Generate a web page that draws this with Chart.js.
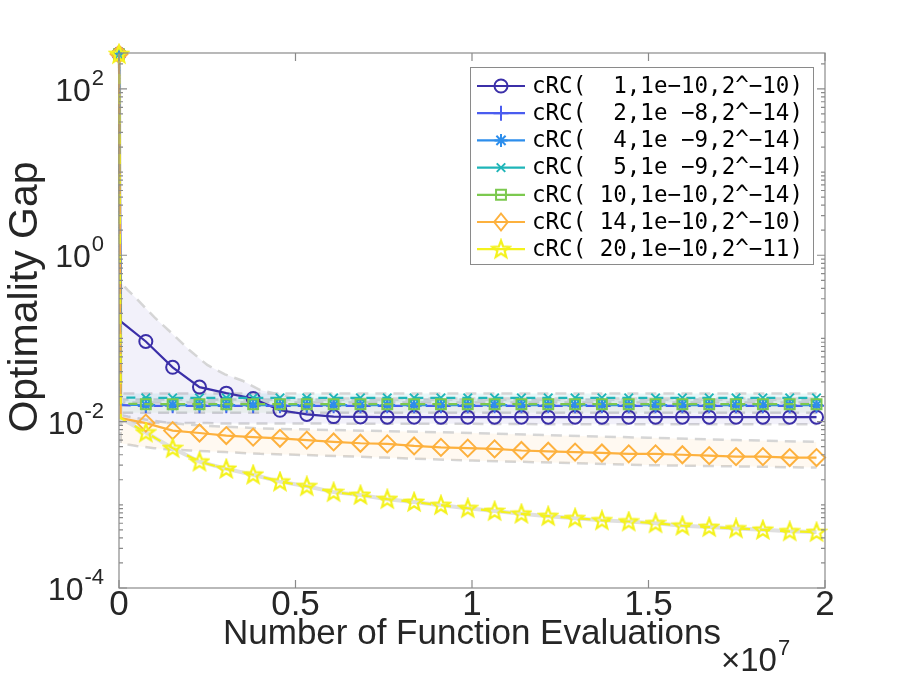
<!DOCTYPE html>
<html><head><meta charset="utf-8">
<script src="https://cdn.jsdelivr.net/npm/chart.js@4.4.1/dist/chart.umd.min.js"></script>
<style>html,body{margin:0;padding:0;background:#fff}#wrap{width:913px;height:686px;position:relative}</style>
</head><body><div id="wrap"><canvas id="c" width="913" height="686"></canvas></div>
<script>
// ---------------- data ----------------
const evaluations = [0, 5e4, 7.6e5, 1.52e6, 2.28e6, 3.04e6, 3.8e6, 4.56e6, 5.32e6, 6.08e6, 6.84e6, 7.6e6,
  8.36e6, 9.12e6, 9.88e6, 1.064e7, 1.14e7, 1.216e7, 1.292e7, 1.368e7, 1.444e7, 1.52e7, 1.596e7,
  1.672e7, 1.748e7, 1.824e7, 1.9e7, 1.976e7];

const seriesLabels = [
  'cRC(  1,1e\u221210,2^\u221210)',
  'cRC(  2,1e \u22128,2^\u221214)',
  'cRC(  4,1e \u22129,2^\u221214)',
  'cRC(  5,1e \u22129,2^\u221214)',
  'cRC( 10,1e\u221210,2^\u221214)',
  'cRC( 14,1e\u221210,2^\u221210)',
  'cRC( 20,1e\u221210,2^\u221211)'
];

const gap1 = [262, 0.16, 0.092, 0.045, 0.026, 0.022, 0.019, 0.0137, 0.0122, 0.0115, 0.0114, 0.0113, 0.0113, 0.0113,
  0.0113, 0.0113, 0.0113, 0.0113, 0.0113, 0.0113, 0.0113, 0.0113, 0.0113, 0.0113, 0.0113, 0.0113, 0.0113, 0.0113];
const gap2 = [262, 0.0158, 0.0155, 0.0155, 0.0155, 0.0155, 0.0155, 0.0155, 0.0155, 0.0155, 0.0155, 0.0155, 0.0155, 0.0155,
  0.0155, 0.0155, 0.0155, 0.0155, 0.0155, 0.0155, 0.0155, 0.0155, 0.0155, 0.0155, 0.0155, 0.0155, 0.0155, 0.0155];
const gap4 = [262, 0.016, 0.0158, 0.0158, 0.0158, 0.0158, 0.0158, 0.0158, 0.0158, 0.0158, 0.0158, 0.0158, 0.0158, 0.0158,
  0.0158, 0.0158, 0.0158, 0.0158, 0.0158, 0.0158, 0.0158, 0.0158, 0.0158, 0.0158, 0.0158, 0.0158, 0.0158, 0.0158];
const gap5 = [262, 0.0195, 0.0193, 0.0193, 0.0193, 0.0193, 0.0193, 0.0193, 0.0193, 0.0193, 0.0193, 0.0193, 0.0193, 0.0193,
  0.0193, 0.0193, 0.0193, 0.0193, 0.0193, 0.0193, 0.0193, 0.0193, 0.0193, 0.0193, 0.0193, 0.0193, 0.0193, 0.0193];
const gap10 = [262, 0.0165, 0.0162, 0.0162, 0.0162, 0.0162, 0.0162, 0.0162, 0.0162, 0.0162, 0.0162, 0.0162, 0.0162, 0.0162,
  0.0162, 0.0162, 0.0162, 0.0162, 0.0162, 0.0162, 0.0162, 0.0162, 0.0162, 0.0162, 0.0162, 0.0162, 0.0162, 0.0162];
const gap14 = [262, 0.011, 0.0096, 0.0078, 0.0073, 0.0068, 0.0065, 0.0063, 0.0060, 0.0057, 0.0055, 0.0054, 0.0051, 0.0049,
  0.0048, 0.0047, 0.0045, 0.0044, 0.0043, 0.0042, 0.0041, 0.0041, 0.0040, 0.0039, 0.0038, 0.0038, 0.0037, 0.0037];
const gap20 = [262, 0.011, 0.0074, 0.0048, 0.0033, 0.0027, 0.0023, 0.0019, 0.00167, 0.00142, 0.00131, 0.00117, 0.00108,
  0.00099, 0.00091, 0.00084, 0.00078, 0.00073, 0.00069, 0.00065, 0.00063, 0.0006, 0.00056, 0.00054, 0.00052, 0.0005,
  0.00048, 0.00047];

// spread bands
const bandEvaluations = [0, 5e4, 2.5e5, 5e5, 1e6, 1.5e6, 2e6, 2.5e6, 3e6, 3.5e6, 4e6, 5e6, 7.5e6, 1e7, 1.25e7, 1.5e7, 1.75e7, 1.976e7];
const band1Upper = [262, 0.47, 0.38, 0.30, 0.18, 0.115, 0.072, 0.048, 0.037, 0.031, 0.024, 0.019, 0.019, 0.019, 0.019, 0.019, 0.019, 0.019];
const band1Lower = [262, 0.0098, 0.0098, 0.0097, 0.0097, 0.0096, 0.0096, 0.0096, 0.0095, 0.0095, 0.0095, 0.0095, 0.0094, 0.0094, 0.0093, 0.0093, 0.0093, 0.0093];
const band5Upper = [262, 0.0218, 0.0218, 0.0218, 0.0218, 0.0218, 0.0218, 0.0218, 0.0218, 0.0218, 0.0218, 0.0218, 0.0218, 0.0218, 0.0218, 0.0218, 0.0218, 0.0218];
const band5Lower = [262, 0.017, 0.017, 0.017, 0.017, 0.017, 0.017, 0.017, 0.017, 0.017, 0.017, 0.017, 0.017, 0.017, 0.017, 0.017, 0.017, 0.017];
const band10Upper = [262, 0.0185, 0.0185, 0.0185, 0.0185, 0.0185, 0.0185, 0.0185, 0.0185, 0.0185, 0.0185, 0.0185, 0.0185, 0.0185, 0.0185, 0.0185, 0.0185, 0.0185];
const band10Lower = [262, 0.0128, 0.0128, 0.0128, 0.0128, 0.0128, 0.0128, 0.0128, 0.0128, 0.0128, 0.0128, 0.0128, 0.0128, 0.0128, 0.0128, 0.0128, 0.0128, 0.0128];
const band14Upper = [262, 0.012, 0.0115, 0.011, 0.0102, 0.0096, 0.0092, 0.0089, 0.0087, 0.0085, 0.0083, 0.0081, 0.0077, 0.0073, 0.0068, 0.0064, 0.0060, 0.0057];
const band14Lower = [262, 0.0055, 0.0053, 0.0051, 0.0048, 0.0046, 0.0045, 0.0044, 0.0043, 0.0042, 0.0041, 0.0040, 0.0037, 0.0034, 0.0032, 0.0030, 0.0029, 0.0028];

const xTickValues = [0, 5e6, 1e7, 1.5e7, 2e7];
const xTickLabels = ['0', '0.5', '1', '1.5', '2'];
const yTickValues = [1e-4, 1e-2, 1, 1e2];
const yTickBase = '10';
const yTickExponents = ['-4', '-2', '0', '2'];
const xTitle = 'Number of Function Evaluations';
const yTitle = 'Optimality Gap';
const xMultiplierBase = '\u00D710';
const xMultiplierExp = '7';

// ---------------- styles ----------------
const colors = ['#3b2fa8', '#4a5cef', '#2d8eec', '#1fb5b8', '#7cc94f', '#fdb13e', '#f4f21c'];
const textColor = '#262626';
const axisColor = '#8a8a8a';
const bandEdge = 'rgba(210,210,210,0.9)';
const sans = "'Liberation Sans', Arial, sans-serif";

function pentagram(color) {
  const cv = document.createElement('canvas');
  cv.width = 22; cv.height = 22;
  const g = cv.getContext('2d');
  g.strokeStyle = color; g.lineWidth = 2.2; g.lineJoin = 'miter';
  g.beginPath();
  for (let k = 0; k < 10; k++) {
    const r = k % 2 === 0 ? 9 : 3.8;
    const ang = -Math.PI / 2 + k * Math.PI / 5;
    const px = 11 + r * Math.cos(ang), py = 11.5 + r * Math.sin(ang);
    k === 0 ? g.moveTo(px, py) : g.lineTo(px, py);
  }
  g.closePath(); g.stroke();
  return cv;
}
const starImg = pentagram(colors[6]);

const markerStyles = ['circle', 'cross', 'star', 'crossRot', 'rect', 'rectRot', starImg];
const markerRadius = [6.5, 7.5, 6.5, 6, 7, 8.5, 9];

function toPoints(xs, ys) { return xs.map((v, i) => ({x: v, y: ys[i]})); }

function lineDs(idx, ys, order, extra) {
  return Object.assign({
    label: seriesLabels[idx],
    data: toPoints(evaluations, ys),
    borderColor: colors[idx],
    backgroundColor: 'rgba(0,0,0,0)',
    pointBorderColor: colors[idx],
    pointBackgroundColor: 'rgba(0,0,0,0)',
    pointStyle: markerStyles[idx],
    pointRadius: c => c.dataIndex === 1 ? 0 : markerRadius[idx],
    pointBorderWidth: 2,
    borderWidth: 2.2,
    tension: 0,
    fill: false,
    clip: false,
    order: order
  }, extra || {});
}
function bandDs(ys, fillColor, isUpper) {
  return {
    label: '_band',
    data: toPoints(bandEvaluations, ys),
    borderColor: bandEdge,
    borderWidth: 2.5,
    borderDash: [11, 7],
    backgroundColor: fillColor,
    pointRadius: 0,
    fill: isUpper ? '+1' : false,
    tension: 0,
    order: 20
  };
}

const datasets = [
  bandDs(band1Upper, 'rgba(70,60,180,0.07)', true),
  bandDs(band1Lower, 'rgba(0,0,0,0)', false),
  bandDs(band14Upper, 'rgba(255,175,60,0.07)', true),
  bandDs(band14Lower, 'rgba(0,0,0,0)', false),
  bandDs(band5Upper, 'rgba(40,180,190,0.10)', true),
  bandDs(band5Lower, 'rgba(0,0,0,0)', false),
  bandDs(band10Upper, 'rgba(120,200,90,0.08)', true),
  bandDs(band10Lower, 'rgba(0,0,0,0)', false),
  { label: '_band', data: toPoints(evaluations, gap20), borderColor: '#e0e0e0', borderWidth: 4, pointRadius: 0, fill: false, order: 15 },
  lineDs(0, gap1, 7),
  lineDs(1, gap2, 6, {borderDash: [9, 7], borderDashOffset: 0}),
  lineDs(2, gap4, 5, {borderDash: [9, 7], borderDashOffset: 8}),
  lineDs(3, gap5, 4, {borderDash: [9, 7], borderDashOffset: 3}),
  lineDs(4, gap10, 3, {borderDash: [9, 7], borderDashOffset: 11}),
  lineDs(5, gap14, 2),
  lineDs(6, gap20, 1, {borderDash: [10, 10]})
];

// ---------------- plugins ----------------
const boxTicks = {
  id: 'boxTicks',
  afterDatasetsDraw(chart) {
    const {ctx, chartArea: a, scales: {x, y}} = chart;
    ctx.save();
    ctx.strokeStyle = axisColor; ctx.lineWidth = 1.2; ctx.setLineDash([]);
    ctx.strokeRect(a.left, a.top, a.right - a.left, a.bottom - a.top);
    ctx.beginPath();
    xTickValues.forEach(v => {
      const p = x.getPixelForValue(v);
      ctx.moveTo(p, a.bottom); ctx.lineTo(p, a.bottom - 8);
      ctx.moveTo(p, a.top); ctx.lineTo(p, a.top + 8);
    });
    for (let e = -4; e <= 2; e++) {
      for (let m = 1; m <= 9; m++) {
        const v = m * Math.pow(10, e);
        if (v < y.min || v > y.max) continue;
        const p = y.getPixelForValue(v);
        const len = (m === 1 && yTickValues.includes(v)) ? 8 : 4;
        ctx.moveTo(a.left, p); ctx.lineTo(a.left + len, p);
        ctx.moveTo(a.right, p); ctx.lineTo(a.right - len, p);
      }
    }
    ctx.stroke();
    // y tick labels with superscript exponents
    ctx.fillStyle = textColor;
    ctx.textAlign = 'left'; ctx.textBaseline = 'alphabetic';
    yTickValues.forEach((v, i) => {
      const p = y.getPixelForValue(v);
      ctx.font = '22px ' + sans;
      const ew = ctx.measureText(yTickExponents[i]).width;
      ctx.font = '32px ' + sans;
      const bw = ctx.measureText(yTickBase).width;
      const right = a.left - 15;
      ctx.fillText(yTickBase, right - ew - bw - 1, p + 12);
      ctx.font = '22px ' + sans;
      ctx.fillText(yTickExponents[i], right - ew, p - 4);
    });
    ctx.restore();
  }
};

function drawMarker(ctx, style, r, cx, cy) {
  if (typeof style !== 'string') { ctx.drawImage(style, cx - style.width / 2, cy - style.height / 2); return; }
  ctx.beginPath();
  if (style === 'circle') { ctx.arc(cx, cy, r, 0, Math.PI * 2); }
  else if (style === 'cross') { ctx.moveTo(cx - r, cy); ctx.lineTo(cx + r, cy); ctx.moveTo(cx, cy - r); ctx.lineTo(cx, cy + r); }
  else if (style === 'crossRot' || style === 'star') {
    const d = r * Math.SQRT1_2;
    ctx.moveTo(cx - d, cy - d); ctx.lineTo(cx + d, cy + d); ctx.moveTo(cx - d, cy + d); ctx.lineTo(cx + d, cy - d);
    if (style === 'star') { ctx.moveTo(cx - r, cy); ctx.lineTo(cx + r, cy); ctx.moveTo(cx, cy - r); ctx.lineTo(cx, cy + r); }
  }
  else if (style === 'rect') { const d = r * Math.SQRT1_2; ctx.rect(cx - d, cy - d, 2 * d, 2 * d); }
  else if (style === 'rectRot') { ctx.moveTo(cx, cy - r); ctx.lineTo(cx + r * 0.8, cy); ctx.lineTo(cx, cy + r); ctx.lineTo(cx - r * 0.8, cy); ctx.closePath(); }
  ctx.stroke();
}

const textAndLegend = {
  id: 'textAndLegend',
  afterDraw(chart) {
    const ctx = chart.ctx;
    const a = chart.chartArea;
    ctx.save();
    ctx.fillStyle = textColor;
    // y title
    ctx.save();
    ctx.translate(26, 297); ctx.rotate(-Math.PI / 2);
    ctx.font = '41px ' + sans; ctx.textAlign = 'center'; ctx.textBaseline = 'middle';
    ctx.fillText(yTitle, 0, 0);
    ctx.restore();
    // x title
    ctx.font = '35px ' + sans; ctx.textAlign = 'center'; ctx.textBaseline = 'middle';
    ctx.fillText(xTitle, (a.left + a.right) / 2, 634);
    // multiplier
    ctx.textAlign = 'left'; ctx.textBaseline = 'alphabetic';
    ctx.font = '33px ' + sans;
    ctx.fillText(xMultiplierBase, 721, 671);
    const w = ctx.measureText(xMultiplierBase).width;
    ctx.font = '22px ' + sans;
    ctx.fillText(xMultiplierExp, 721 + w + 1, 655);
    // legend
    const L = {x: 470, y: 67, w: 343, h: 197};
    ctx.fillStyle = '#ffffff';
    ctx.fillRect(L.x, L.y, L.w, L.h);
    ctx.strokeStyle = axisColor; ctx.lineWidth = 1;
    ctx.strokeRect(L.x + 0.5, L.y + 0.5, L.w, L.h);
    ctx.font = "22.5px 'DejaVu Sans Mono', monospace";
    ctx.textBaseline = 'middle';
    seriesLabels.forEach((lab, i) => {
      const yy = 86 + i * 27.2;
      ctx.strokeStyle = colors[i]; ctx.lineWidth = 2.2; ctx.setLineDash([]);
      ctx.beginPath(); ctx.moveTo(477, yy); ctx.lineTo(525, yy); ctx.stroke();
      ctx.lineWidth = 2;
      drawMarker(ctx, markerStyles[i], markerRadius[i], 501, yy);
      ctx.fillStyle = '#000';
      ctx.fillText(lab, 532, yy + 1);
    });
    ctx.restore();
  }
};

new Chart(document.getElementById('c'), {
  type: 'line',
  data: { datasets: datasets },
  options: {
    responsive: false,
    animation: false,
    events: [],
    layout: { padding: { top: 53, right: 88, bottom: 0, left: 0 } },
    plugins: { legend: { display: false }, tooltip: { enabled: false } },
    scales: {
      x: {
        type: 'linear', min: 0, max: 2e7,
        afterBuildTicks: s => { s.ticks = xTickValues.map(v => ({value: v})); },
        afterFit: s => { s.height = 98; },
        grid: { display: false, drawTicks: false },
        border: { display: false },
        ticks: {
          padding: 0, color: textColor, maxRotation: 0, autoSkip: false,
          font: { family: sans, size: 35, lineHeight: 1 },
          callback: (v, i) => xTickLabels[i]
        }
      },
      y: {
        type: 'logarithmic', min: 1e-4, max: 270,
        afterBuildTicks: s => { s.ticks = yTickValues.map(v => ({value: v})); },
        afterFit: s => { s.width = 119; },
        grid: { display: false, drawTicks: false },
        border: { display: false },
        ticks: { display: false }
      }
    }
  },
  plugins: [boxTicks, textAndLegend]
});
</script></body></html>
